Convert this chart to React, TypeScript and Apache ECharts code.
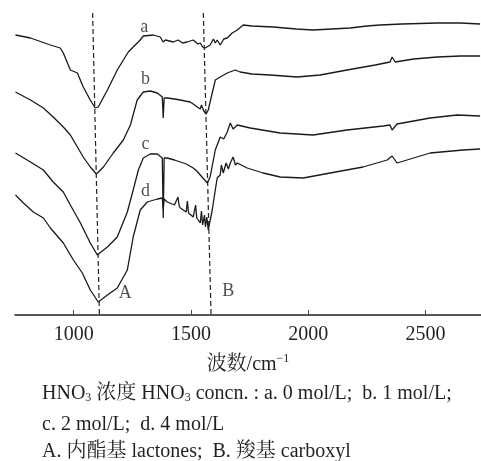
import React, { useEffect, useRef } from "react";
import * as echarts from "echarts";

// wavenumber (cm^-1), relative absorbance (offset curves)
const curveA: [number, number][] = [
  [752, 280], [816, 277], [901, 270], [943, 267], [956, 262], [986, 245], [1016, 242], [1041, 228],
  [1071, 215], [1092, 207], [1105, 208], [1144, 225], [1186, 245], [1233, 263], [1284, 275], [1297, 279],
  [1340, 280], [1369, 278], [1382, 273], [1391, 275], [1425, 273], [1445, 275], [1465, 272], [1484, 273],
  [1510, 275], [1530, 271], [1540, 272], [1550, 268], [1561, 267], [1582, 270], [1596, 276], [1604, 272],
  [1612, 275], [1625, 270], [1640, 276], [1655, 277], [1676, 282], [1698, 285], [1723, 290], [1760, 289],
  [1851, 288], [1950, 286], [2021, 285], [2100, 286], [2179, 287], [2250, 289], [2307, 290], [2400, 291],
  [2550, 292], [2650, 292], [2733, 291],
];
const curveB: [number, number][] = [
  [752, 223], [816, 215], [871, 207], [913, 198], [956, 188], [986, 180], [1016, 168], [1041, 158],
  [1071, 148], [1097, 141], [1127, 148], [1169, 162], [1212, 175], [1242, 190], [1271, 215], [1297, 223],
  [1327, 224], [1357, 222], [1378, 218], [1382, 197], [1386, 217], [1399, 217], [1430, 216], [1455, 215],
  [1475, 214], [1497, 213], [1510, 211], [1527, 208], [1540, 206], [1545, 210], [1555, 204], [1565, 201],
  [1574, 205], [1591, 222], [1604, 235], [1625, 238], [1655, 242], [1689, 245], [1710, 243], [1760, 241],
  [1838, 240], [1953, 238], [2051, 240], [2166, 245], [2286, 250], [2349, 253], [2358, 258], [2371, 253],
  [2450, 256], [2550, 258], [2650, 259], [2733, 259],
];
const curveC: [number, number][] = [
  [752, 162], [816, 153], [871, 145], [913, 133], [956, 123], [986, 110], [1029, 92], [1071, 72],
  [1101, 60], [1144, 68], [1186, 78], [1229, 103], [1254, 125], [1276, 145], [1297, 157], [1327, 161],
  [1357, 161], [1378, 157], [1382, 97], [1386, 157], [1399, 157], [1430, 155], [1455, 153], [1480, 151],
  [1510, 147], [1525, 144], [1540, 140], [1555, 136], [1570, 132], [1582, 138], [1604, 165], [1625, 178],
  [1640, 176], [1655, 183], [1668, 192], [1680, 186], [1698, 190], [1753, 187], [1881, 182], [2021, 180],
  [2166, 185], [2320, 189], [2349, 190], [2358, 185], [2379, 191], [2520, 197], [2635, 200], [2733, 199],
];
const curveD: [number, number][] = [
  [752, 120], [786, 112], [828, 103], [871, 97], [901, 87], [956, 72], [999, 55], [1037, 42],
  [1071, 25], [1105, 13], [1144, 20], [1186, 27], [1229, 45], [1254, 78], [1284, 105], [1314, 113],
  [1357, 116], [1378, 117], [1382, 106], [1386, 116], [1399, 113], [1430, 110], [1445, 118], [1450, 109],
  [1455, 107], [1480, 103], [1485, 114], [1490, 102], [1510, 98], [1520, 110], [1525, 97], [1540, 92],
  [1545, 104], [1550, 90], [1558, 100], [1562, 88], [1568, 98], [1574, 85], [1591, 105], [1612, 137],
  [1625, 140], [1630, 150], [1638, 142], [1650, 152], [1660, 146], [1668, 152], [1680, 158], [1690, 150],
  [1698, 152], [1740, 147], [1808, 142], [1881, 138], [1979, 137], [2094, 142], [2234, 148], [2337, 155],
  [2358, 159], [2379, 152], [2520, 162], [2660, 165], [2733, 166],
];
const dashA: [number, number][] = [[1081, 302], [1110, 0]];
const dashB: [number, number][] = [[1553, 302], [1586, 0]];
const curveLabels = [
  { name: "a", value: [1301, 289] },
  { name: "b", value: [1306, 237] },
  { name: "c", value: [1306, 172] },
  { name: "d", value: [1306, 125] },
  { name: "A", value: [1220, 23] },
  { name: "B", value: [1659, 25] },
];
const tickValues = [1000, 1500, 2000, 2500];
const axisName = "波数/cm{sup|−1}";
const captionLines = [
  "HNO{sub|3} 浓度 HNO{sub|3} concn. : a. 0 mol/L;  b. 1 mol/L;",
  "c. 2 mol/L;  d. 4 mol/L",
  "A. 内酯基 lactones;  B. 羧基 carboxyl",
];

const FONT = "'Liberation Serif', 'Noto Serif CJK SC', 'Noto Sans CJK SC', serif";
const INK = "#231f20";

export default function App() {
  const ref = useRef<HTMLDivElement>(null);
  useEffect(() => {
    document.body.style.margin = "0";
    const chart = echarts.init(ref.current!, null, { renderer: "svg" });
    const lineSeries = (data: [number, number][]) => ({
      type: "line",
      data,
      showSymbol: false,
      symbol: "none",
      lineStyle: { color: "#1a1a1a", width: 1.3 },
      z: 3,
    });
    const dashSeries = (data: [number, number][]) => ({
      type: "line",
      data,
      showSymbol: false,
      symbol: "none",
      lineStyle: { color: "#222", width: 1.2, type: [5, 3] },
      z: 2,
    });
    const captionY = [392, 423, 450];
    chart.setOption({
      animation: false,
      grid: { left: 15, right: 0, top: 0, bottom: 146, outerBoundsMode: "none", containLabel: false },
      xAxis: {
        type: "value",
        min: 750,
        max: 2737,
        name: axisName,
        nameLocation: "middle",
        nameGap: 37,
        nameTextStyle: {
          fontSize: 20,
          fontFamily: FONT,
          color: INK,
          rich: { sup: { fontSize: 12, fontFamily: FONT, color: INK, padding: [0, 0, 10, 0] } },
        },
        axisLine: { show: true, lineStyle: { color: "#222", width: 1.5 } },
        axisTick: { show: true, inside: true, length: 5, customValues: tickValues, lineStyle: { color: "#444" } },
        axisLabel: {
          customValues: tickValues,
          formatter: (v: number) => String(v),
          fontSize: 20,
          fontFamily: FONT,
          color: INK,
          margin: 8,
        },
        splitLine: { show: false },
      },
      yAxis: { type: "value", min: 0, max: 315, show: false },
      series: [
        lineSeries(curveA),
        lineSeries(curveB),
        lineSeries(curveC),
        lineSeries(curveD),
        dashSeries(dashA),
        dashSeries(dashB),
        {
          type: "scatter",
          data: curveLabels,
          symbolSize: 0,
          label: {
            show: true,
            position: "inside",
            formatter: "{b}",
            fontSize: 18,
            fontFamily: FONT,
            color: INK,
          },
          z: 4,
        },
      ],
      graphic: captionLines.map((t, i) => ({
        type: "text",
        x: 42,
        y: captionY[i],
        style: {
          text: t,
          fontSize: 20,
          fontFamily: FONT,
          fill: INK,
          verticalAlign: "middle",
          rich: { sub: { fontSize: 12, fontFamily: FONT, fill: INK, padding: [10, 0, 0, 0] } },
        },
      })),
    });
    return () => chart.dispose();
  }, []);
  return <div ref={ref} style={{ position: "fixed", left: 0, top: 0, width: 481, height: 461 }} />;
}
